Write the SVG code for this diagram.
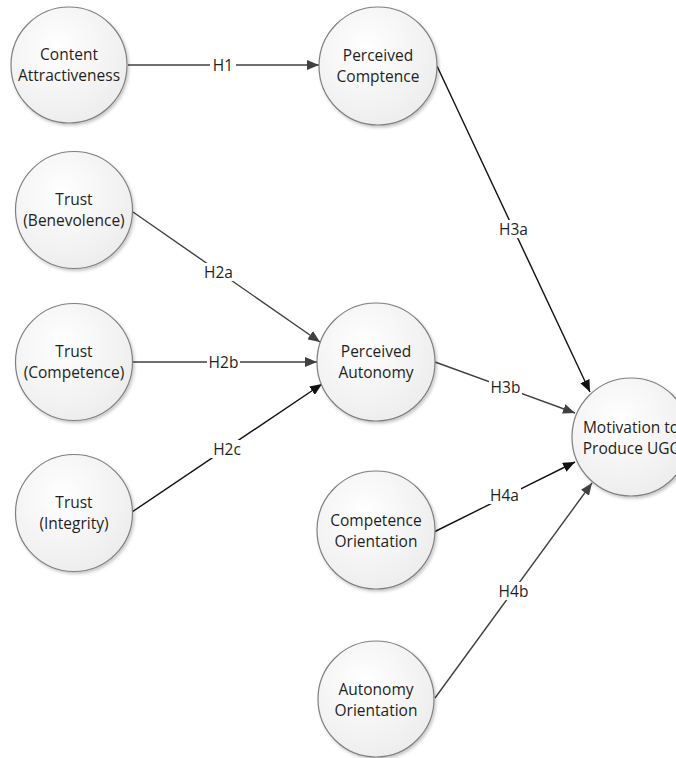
<svg xmlns="http://www.w3.org/2000/svg" width="676" height="758" viewBox="0 0 676 758">
<defs>
<radialGradient id="g" cx="0.4" cy="0.35" r="0.75">
<stop offset="0" stop-color="#ffffff"/>
<stop offset="1" stop-color="#ebebeb"/>
</radialGradient>
<filter id="sh" x="-20%" y="-20%" width="150%" height="150%">
<feDropShadow dx="1.5" dy="2" stdDeviation="1.5" flood-color="#000" flood-opacity="0.22"/>
</filter>
<marker id="ak" viewBox="0 0 12 10" refX="12" refY="5" markerWidth="12" markerHeight="10" markerUnits="userSpaceOnUse" orient="auto">
<path d="M0,0 L12,5 L0,10 Z" fill="#111"/>
</marker>
<marker id="ag" viewBox="0 0 12 10" refX="12" refY="5" markerWidth="12" markerHeight="10" markerUnits="userSpaceOnUse" orient="auto">
<path d="M0,0 L12,5 L0,10 Z" fill="#404040"/>
</marker>
</defs>
<style>
.n circle{fill:url(#g);stroke:#808080;stroke-width:1.2;filter:url(#sh)}
.n text,.lb text{font-family:"Open Sans","Liberation Sans",sans-serif;font-size:15.5px;fill:#1f1f1f;text-anchor:middle;dominant-baseline:central}
.c line{stroke-width:1.4}
.k{stroke:#111}
.d{stroke:#404040}
.lb rect{fill:#fff}
</style>
<rect width="676" height="758" fill="#fff"/>
<g id="connectors" class="c">
<line class="d" x1="128" y1="65" x2="319" y2="65" marker-end="url(#ag)"/>
<line class="k" x1="437" y1="66" x2="590" y2="392" marker-end="url(#ak)"/>
<line class="d" x1="133" y1="212" x2="320" y2="342" marker-end="url(#ag)"/>
<line class="d" x1="132" y1="362" x2="317" y2="362" marker-end="url(#ag)"/>
<line class="k" x1="132" y1="512" x2="322" y2="384" marker-end="url(#ak)"/>
<line class="d" x1="435" y1="362" x2="575" y2="413" marker-end="url(#ag)"/>
<line class="k" x1="434" y1="532" x2="575" y2="462" marker-end="url(#ak)"/>
<line class="d" x1="435" y1="698" x2="592" y2="483" marker-end="url(#ag)"/>
</g>
<g id="labels" class="lb">
<rect x="210" y="56" width="26" height="18"/><text x="223" y="64.5">H1</text>
<rect x="202" y="263" width="33" height="18"/><text x="218.5" y="272">H2a</text>
<rect x="207" y="353" width="33" height="18"/><text x="223.5" y="362">H2b</text>
<rect x="211" y="440" width="32" height="18"/><text x="227" y="449">H2c</text>
<rect x="497" y="220" width="33" height="18"/><text x="513.5" y="229">H3a</text>
<rect x="489" y="378" width="33" height="18"/><text x="505.5" y="387">H3b</text>
<rect x="488" y="486" width="33" height="18"/><text x="504.5" y="495">H4a</text>
<rect x="497" y="582" width="33" height="18"/><text x="513.5" y="591">H4b</text>
</g>
<g id="content-attractiveness" class="n"><circle cx="69" cy="65" r="58"/><text x="69" y="54">Content</text><text x="69" y="75">Attractiveness</text></g>
<g id="perceived-competence" class="n"><circle cx="378" cy="66" r="59"/><text x="378" y="55">Perceived</text><text x="378" y="76">Comptence</text></g>
<g id="trust-benevolence" class="n"><circle cx="74" cy="210" r="58.5"/><text x="74" y="199">Trust</text><text x="74" y="220">(Benevolence)</text></g>
<g id="trust-competence" class="n"><circle cx="74" cy="362" r="58.5"/><text x="74" y="351">Trust</text><text x="74" y="372">(Competence)</text></g>
<g id="trust-integrity" class="n"><circle cx="74" cy="513" r="58.5"/><text x="74" y="502">Trust</text><text x="74" y="523">(Integrity)</text></g>
<g id="perceived-autonomy" class="n"><circle cx="376" cy="362" r="59"/><text x="376" y="351">Perceived</text><text x="376" y="372">Autonomy</text></g>
<g id="motivation" class="n"><circle cx="631" cy="437" r="59"/><text x="631" y="427">Motivation to</text><text x="631" y="448">Produce UGC</text></g>
<g id="competence-orientation" class="n"><circle cx="376" cy="530" r="59"/><text x="376" y="520">Competence</text><text x="376" y="541">Orientation</text></g>
<g id="autonomy-orientation" class="n"><circle cx="376" cy="699" r="58"/><text x="376" y="689">Autonomy</text><text x="376" y="710">Orientation</text></g>
</svg>
